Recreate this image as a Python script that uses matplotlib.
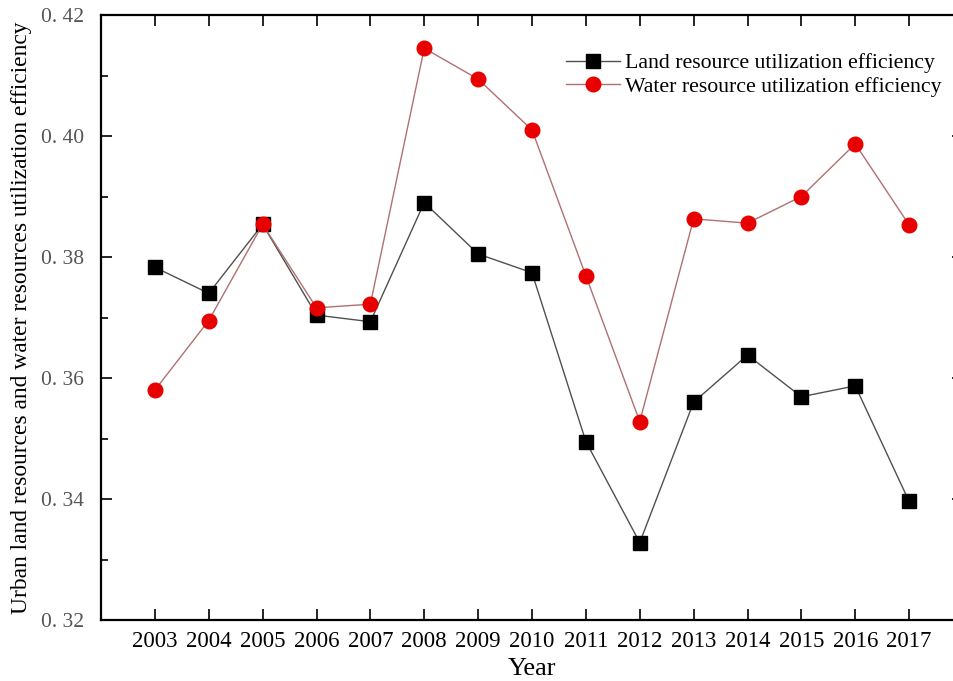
import matplotlib
matplotlib.use("Agg")
import matplotlib.pyplot as plt
from matplotlib.ticker import MultipleLocator, FuncFormatter

# values
years = [2003, 2004, 2005, 2006, 2007, 2008, 2009, 2010,
         2011, 2012, 2013, 2014, 2015, 2016, 2017]
land_eff = [0.3783, 0.3740, 0.3854, 0.3704, 0.3693, 0.3890, 0.3805, 0.3774,
            0.3495, 0.3328, 0.3560, 0.3638, 0.3569, 0.3587, 0.3396]
water_eff = [0.3580, 0.3695, 0.3854, 0.3716, 0.3722, 0.4145, 0.4094, 0.4010,
             0.3769, 0.3528, 0.3863, 0.3856, 0.3900, 0.3987, 0.3853]

plt.rcParams['font.family'] = ['Liberation Serif', 'DejaVu Serif']

fig = plt.figure(figsize=(9.54, 6.81), dpi=100)
ax = fig.add_axes([101/954, 61/681, 862/954, 605/681])

ax.plot(years, land_eff, color="#505050", lw=1.0, marker="s", ms=9.5,
        mfc="black", mec="black", label="Land resource utilization efficiency")
ax.plot(years, water_eff, color="#b07070", lw=1.0, marker="o", ms=10.5,
        mfc="#e80000", mec="#e80000", label="Water resource utilization efficiency")

ax.set_xlim(2002, 2018)
ax.set_ylim(0.32, 0.42)
ax.set_xticks(years)
ax.yaxis.set_major_locator(MultipleLocator(0.02))
ax.yaxis.set_minor_locator(MultipleLocator(0.01))
ax.yaxis.set_major_formatter(FuncFormatter(lambda v, p: "0. %02d" % round(v * 100)))

ax.tick_params(axis="both", which="both", direction="in", top=True, right=True)
ax.tick_params(axis="both", which="major", length=8, width=1.2)
ax.tick_params(axis="y", which="minor", length=5, width=1.2)
ax.tick_params(axis="x", labelsize=16.5, pad=8)
ax.tick_params(axis="y", labelsize=15.5, labelcolor="#555555", pad=12)
for s in ax.spines.values():
    s.set_linewidth(1.6)

ax.set_xlabel("Year", fontsize=19, labelpad=4)
ax.set_ylabel("Urban land resources and water resources utilization efficiency",
              fontsize=16.9)
ax.yaxis.set_label_coords(-0.080, 0.5)

fig.legend(loc="upper left", bbox_to_anchor=(555/954, 1 - 42/681), frameon=False,
           fontsize=15.7, handlelength=2.5, borderpad=0, labelspacing=0.15,
           handletextpad=0.2)

fig.savefig("out.png", dpi=100)
